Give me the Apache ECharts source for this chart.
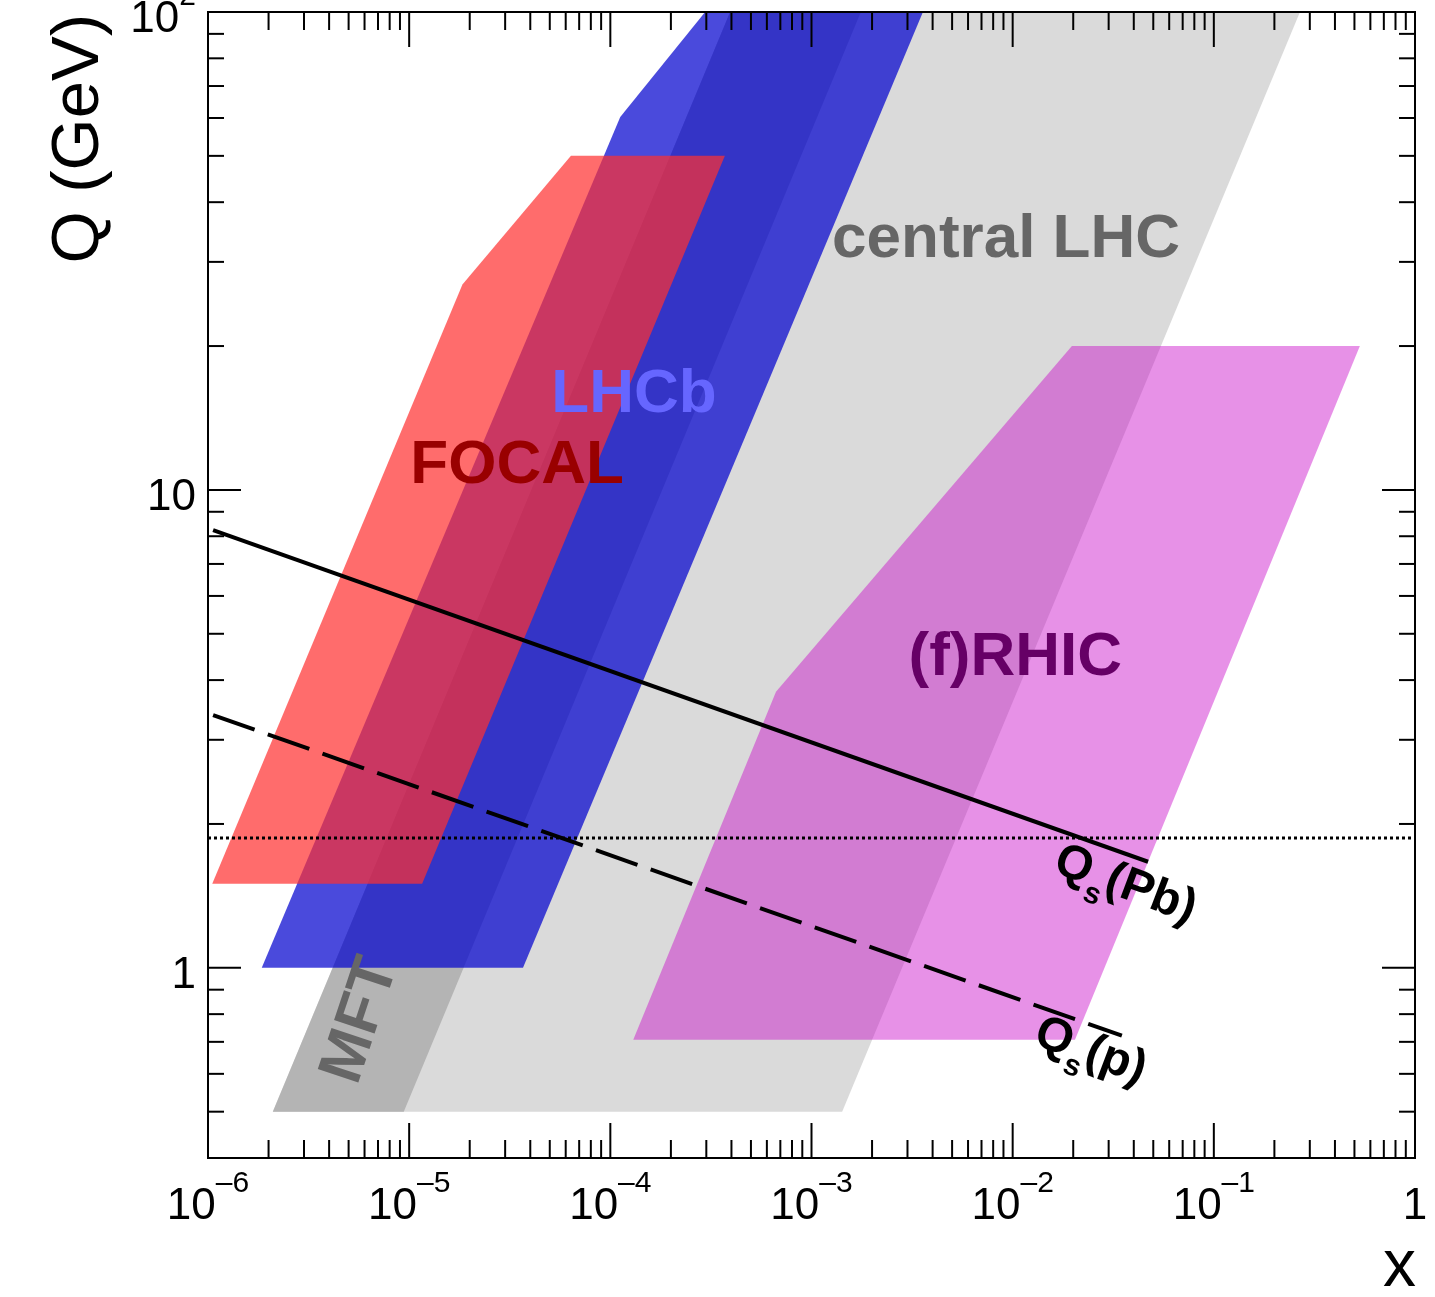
<!DOCTYPE html>
<html><head><meta charset="utf-8">
<script src="https://cdn.jsdelivr.net/npm/echarts@6/dist/echarts.min.js"></script>
<style>html,body{margin:0;padding:0;background:#fff}#chart{width:1435px;height:1297px}</style>
</head><body><div id="chart"></div>
<script>
// ---------------- data (x, Q in GeV) ----------------
const xRange = [1e-6, 1];
const qRange = [0.4, 100];

const centralLHC = [[2.1e-6, 0.5], [1.42e-3, 0.5], [0.268, 100], [3.94e-4, 100]];
const mftBand    = [[2.1e-6, 0.5], [9.4e-6, 0.5], [1.76e-3, 100], [3.94e-4, 100]];
const lhcbBand   = [[1.85e-6, 1], [3.68e-5, 1], [3.58e-3, 100], [2.96e-4, 100], [1.12e-4, 60.3]];
const focalBand  = [[1.05e-6, 1.5], [1.16e-5, 1.5], [3.71e-4, 50], [6.37e-5, 50], [1.84e-5, 26.9]];
const rhicBand   = [[1.30e-4, 0.707], [0.0204, 0.707], [0.532, 20], [0.0197, 20], [6.66e-4, 3.78]];

const qsPb  = [[1.06e-6, 8.24], [0.0471, 1.667]];
const qsP   = [[1.06e-6, 3.38], [0.0349, 0.721]];
const qLine = [[1e-6, 1.87], [1, 1.87]];

const xMajorTicks = [1e-6, 1e-5, 1e-4, 1e-3, 1e-2, 1e-1, 1];
const yMajorTicks = [1, 10, 100];
const yDecades = [0.1, 1, 10];
const minorMultipliers = [2, 3, 4, 5, 6, 7, 8, 9];

// annotation anchors (x, Q) and texts
const annotationText = ['central LHC', 'LHCb', 'FOCAL', '(f)RHIC', 'MFT', 'Q_s(Pb)', 'Q_s(p)'];
const annotationAt = [[9.27e-3, 33.3], [1.31e-4, 15.8], [3.44e-5, 11.2], [0.0103, 4.46], [5.75e-6, 0.775], [0.0355, 1.45], [0.0238, 0.65]];

// ---------------- derived tick lists ----------------
const xMinorTicks = [];
xMajorTicks.slice(0, -1).forEach(d => minorMultipliers.forEach(m => xMinorTicks.push(d * m)));
const yMinorTicks = [];
yDecades.forEach(d => minorMultipliers.forEach(m => { const v = d * m; if (v > qRange[0] && v < qRange[1]) yMinorTicks.push(v); }));

// ---------------- styles ----------------
const FONT = "'Liberation Sans', Arial, Helvetica, sans-serif";
const annStyles = [
  { fill: '#666666', size: 62, rot: 0 },
  { fill: '#6666ff', size: 62, rot: 0 },
  { fill: '#990000', size: 62, rot: 0 },
  { fill: '#660066', size: 62, rot: 0 },
  { fill: '#666666', size: 62, rot: 1.25 },
  { fill: '#000000', size: 48, rot: -0.36 },
  { fill: '#000000', size: 48, rot: -0.36 }
];

function polySeries(verts, fill, z) {
  return {
    type: 'custom', coordinateSystem: 'cartesian2d', z: z, silent: true, animation: false,
    data: verts,
    renderItem: function (params, api) {
      if (params.dataIndex !== 0) return null;
      return { type: 'polygon', shape: { points: verts.map(v => api.coord(v)) }, style: { fill: fill } };
    }
  };
}

function tickSeries(values, axis, len) {
  return {
    type: 'custom', coordinateSystem: 'cartesian2d', z: 20, silent: true, animation: false,
    data: values.map(v => axis === 'x' ? [v, qRange[0]] : [xRange[0], v]),
    renderItem: function (params, api) {
      const st = { stroke: '#000', lineWidth: 2 };
      if (axis === 'x') {
        const v = api.value(0);
        const a = api.coord([v, qRange[0]]), b = api.coord([v, qRange[1]]);
        return { type: 'group', children: [
          { type: 'line', shape: { x1: a[0], y1: a[1], x2: a[0], y2: a[1] - len }, style: st },
          { type: 'line', shape: { x1: b[0], y1: b[1], x2: b[0], y2: b[1] + len }, style: st }
        ] };
      } else {
        const v = api.value(1);
        const a = api.coord([xRange[0], v]), b = api.coord([xRange[1], v]);
        return { type: 'group', children: [
          { type: 'line', shape: { x1: a[0], y1: a[1], x2: a[0] + len, y2: a[1] }, style: st },
          { type: 'line', shape: { x1: b[0], y1: b[1], x2: b[0] - len, y2: b[1] }, style: st }
        ] };
      }
    }
  };
}

const frameSeries = {
  type: 'custom', coordinateSystem: 'cartesian2d', z: 21, silent: true, animation: false,
  data: [[xRange[0], qRange[0]]],
  renderItem: function (params, api) {
    const a = api.coord([xRange[0], qRange[1]]), b = api.coord([xRange[1], qRange[0]]);
    return { type: 'rect', shape: { x: a[0], y: a[1], width: b[0] - a[0], height: b[1] - a[1] },
      style: { fill: 'none', stroke: '#000', lineWidth: 2 } };
  }
};

function richFor(t, size) {
  const m = t.match(/^Q_s(.*)$/);
  if (m) return { text: '{q|Q}{s|s}{q|' + m[1] + '}', rich: {
    q: { fontSize: size, fontWeight: 'bold', fontFamily: FONT, lineHeight: size + 12, verticalAlign: 'top', fill: '#000' },
    s: { fontSize: Math.round(size * 0.62), fontWeight: 'bold', fontFamily: FONT, lineHeight: size + 12, verticalAlign: 'bottom', fill: '#000' }
  } };
  return { text: t };
}

const annSeries = {
  type: 'custom', coordinateSystem: 'cartesian2d', z: 15, silent: true, animation: false,
  data: annotationAt,
  renderItem: function (params, api) {
    const i = params.dataIndex;
    const p = api.coord([api.value(0), api.value(1)]);
    const s = annStyles[i];
    const r = richFor(annotationText[i], s.size);
    const style = { text: r.text, fill: s.fill, font: 'bold ' + s.size + 'px ' + FONT, align: 'center', verticalAlign: 'middle' };
    if (r.rich) style.rich = r.rich;
    return { type: 'text', x: p[0], y: p[1], rotation: s.rot, style: style };
  }
};

function lineSeries(data, type, width, z) {
  return { type: 'line', data: data, showSymbol: false, symbol: 'none', z: z, silent: true, animation: false,
    lineStyle: { color: '#000', width: width, type: type } };
}

function expLabel(v) {
  const e = Math.round(Math.log10(v));
  if (Math.abs(Math.log10(v) - e) > 1e-6) return '';
  if (e === 0) return '{b|1}';
  if (e === 1) return '{b|10}';
  return '{b|10}{e|' + (e < 0 ? '\u2013' + (-e) : e) + '}';
}
const labelRich = {
  b: { fontSize: 44, fontFamily: FONT, color: '#000', lineHeight: 60, verticalAlign: 'bottom' },
  e: { fontSize: 30, fontFamily: FONT, color: '#000', lineHeight: 60, verticalAlign: 'top' }
};

const chart = echarts.init(document.getElementById('chart'), null, { renderer: 'canvas', width: 1435, height: 1297 });
chart.setOption({
  backgroundColor: '#ffffff',
  animation: false,
  grid: { left: 208, right: 20, top: 12, bottom: 139, show: false, containLabel: false, outerBoundsMode: 'none' },
  xAxis: {
    type: 'log', logBase: 10, min: xRange[0], max: xRange[1],
    axisLine: { show: false }, axisTick: { show: false }, splitLine: { show: false },
    axisLabel: { margin: 11, formatter: expLabel, rich: labelRich }
  },
  yAxis: {
    type: 'log', logBase: 10, min: qRange[0], max: qRange[1],
    axisLine: { show: false }, axisTick: { show: false }, splitLine: { show: false },
    axisLabel: { margin: 12, formatter: expLabel, rich: labelRich }
  },
  graphic: [
    { type: 'text', x: 80, y: 14, rotation: Math.PI / 2,
      style: { text: 'Q (GeV)', font: '67px ' + FONT, fill: '#000', align: 'right', verticalAlign: 'middle' } },
    { type: 'text', x: 1416, y: 1268,
      style: { text: 'x', font: '66px ' + FONT, fill: '#000', align: 'right', verticalAlign: 'middle' } }
  ],
  series: [
    polySeries(centralLHC, '#dadada', 1),
    polySeries(mftBand, '#b4b4b4', 2),
    polySeries(lhcbBand, 'rgba(0,0,205,0.71)', 3),
    polySeries(focalBand, 'rgba(255,48,48,0.71)', 4),
    polySeries(rhicBand, 'rgba(200,0,200,0.43)', 5),
    lineSeries(qsPb, 'solid', 4, 10),
    lineSeries(qsP, [44, 14], 4, 10),
    lineSeries(qLine, [3, 3], 3, 10),
    annSeries,
    tickSeries(xMajorTicks, 'x', 35),
    tickSeries(xMinorTicks, 'x', 18),
    tickSeries(yMajorTicks, 'y', 33),
    tickSeries(yMinorTicks, 'y', 16),
    frameSeries
  ]
});
</script></body></html>
